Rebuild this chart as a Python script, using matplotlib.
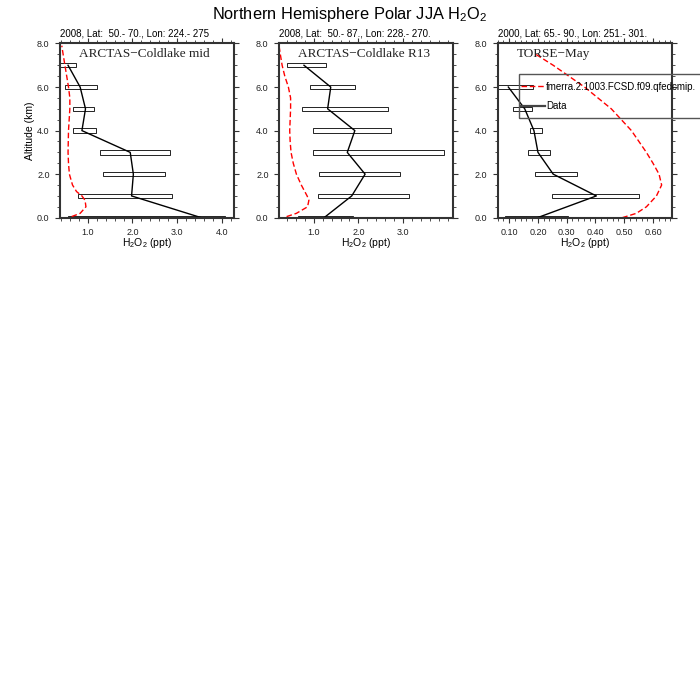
import numpy as np
import matplotlib
matplotlib.use('Agg')
import matplotlib.pyplot as plt
from matplotlib.ticker import MultipleLocator, FormatStrFormatter, FixedLocator
from matplotlib.lines import Line2D
from matplotlib.patches import Rectangle

plt.rcParams['font.family'] = ['Liberation Sans', 'DejaVu Sans']
plt.rcParams['mathtext.default'] = 'regular'

# observed profiles: altitude bins (km), median, and 25-75% range (ppt)
mid_alt = [0, 1, 2, 3, 4, 5, 6, 7]
mid_med = [3.54, 1.98, 2.02, 1.95, 0.87, 0.95, 0.83, 0.56]
mid_lo = [0.55, 0.79, 1.35, 1.28, 0.66, 0.68, 0.49, 0.30]
mid_hi = [4.06, 2.88, 2.73, 2.84, 1.19, 1.13, 1.20, 0.74]

r13_alt = [0, 1, 2, 3, 4, 5, 6, 7]
r13_med = [1.23, 1.85, 2.15, 1.75, 1.92, 1.31, 1.38, 0.78]
r13_lo = [0.65, 1.10, 1.12, 0.99, 0.99, 0.74, 0.91, 0.40]
r13_hi = [1.88, 3.14, 2.93, 3.91, 2.74, 2.67, 1.93, 1.28]

torse_alt = [0, 1, 2, 3, 4, 5, 6]
torse_med = [0.198, 0.403, 0.253, 0.200, 0.186, 0.154, 0.097]
torse_lo = [0.085, 0.249, 0.190, 0.166, 0.172, 0.114, 0.050]
torse_hi = [0.305, 0.551, 0.336, 0.241, 0.215, 0.181, 0.181]

# model profiles
mod_mid_alt = [0.05, 0.2, 0.5, 0.8, 1.0, 1.2, 1.5, 2.0, 2.5, 3.0, 4.0, 5.0, 5.5, 6.0, 6.5, 7.0, 7.5, 7.9]
mod_mid = [0.64, 0.83, 0.96, 0.94, 0.87, 0.75, 0.66, 0.59, 0.57, 0.56, 0.57, 0.60, 0.60, 0.57, 0.53, 0.49, 0.45, 0.42]
mod_r13_alt = [0.05, 0.2, 0.5, 0.8, 1.0, 1.5, 2.0, 2.5, 3.0, 3.5, 4.0, 5.0, 5.5, 6.0, 6.5, 7.0, 7.5, 7.9]
mod_r13 = [0.39, 0.61, 0.86, 0.89, 0.85, 0.72, 0.61, 0.54, 0.49, 0.47, 0.46, 0.48, 0.48, 0.43, 0.35, 0.29, 0.25, 0.22]
mod_torse_alt = [0.0, 0.2, 0.5, 1.0, 1.5, 2.0, 2.5, 3.0, 4.0, 5.0, 6.0, 7.0, 7.5]
mod_torse = [0.493, 0.542, 0.577, 0.612, 0.630, 0.621, 0.600, 0.577, 0.525, 0.455, 0.362, 0.253, 0.193]

subtitles = ['2008, Lat:  50.- 70., Lon: 224.- 275',
             '2008, Lat:  50.- 87., Lon: 228.- 270.',
             '2000, Lat: 65.- 90., Lon: 251.- 301.']
campaigns = ['ARCTAS\u2212Coldlake mid', 'ARCTAS\u2212Coldlake R13', 'TORSE\u2212May']

panels = [
    (mid_alt, mid_med, mid_lo, mid_hi, mod_mid_alt, mod_mid),
    (r13_alt, r13_med, r13_lo, r13_hi, mod_r13_alt, mod_r13),
    (torse_alt, torse_med, torse_lo, torse_hi, mod_torse_alt, mod_torse),
]
xlims = [(0.38, 4.27), (0.22, 4.12), (0.06, 0.665)]
xmajors = [[1, 2, 3, 4], [1, 2, 3], [0.1, 0.2, 0.3, 0.4, 0.5, 0.6]]
xminors = [0.2, 0.2, 0.02]
xfmts = ['%.1f', '%.1f', '%.2f']
lefts = [60, 279, 497.7]

fig = plt.figure(figsize=(7, 7), dpi=100)
W = H = 700.0
axc = '#333333'

for i, (alt, med, lo, hi, malt, mod) in enumerate(panels):
    ax = fig.add_axes([lefts[i] / W, 1 - 217.7 / H, 174 / W, 174.2 / H])
    lo = np.array(lo)
    hi = np.array(hi)
    ax.barh(alt, hi - lo, left=lo, height=0.2, fill=False,
            edgecolor='black', linewidth=0.6)
    ax.plot(med, alt, color='black', linewidth=1.0)
    ax.plot(mod, malt, color='red', linewidth=1.0, linestyle=(0, (4, 2)))
    ax.set_xlim(*xlims[i])
    ax.set_ylim(0, 8)
    ax.xaxis.set_major_locator(FixedLocator(xmajors[i]))
    ax.xaxis.set_minor_locator(MultipleLocator(xminors[i]))
    ax.xaxis.set_major_formatter(FormatStrFormatter(xfmts[i]))
    ax.yaxis.set_major_locator(MultipleLocator(2))
    ax.yaxis.set_minor_locator(MultipleLocator(0.5))
    ax.yaxis.set_major_formatter(FormatStrFormatter('%.1f'))
    ax.tick_params(which='both', direction='out', top=True, right=True,
                   color=axc, labelsize=6.5, labelcolor='#222222')
    ax.tick_params(which='major', length=3.5, width=0.8, pad=4)
    ax.tick_params(which='minor', length=2, width=0.6)
    for s in ax.spines.values():
        s.set_linewidth(1.5)
        s.set_color(axc)
    ax.text(0, 1.056, subtitles[i], transform=ax.transAxes, ha='left',
            va='center', fontsize=7)
    ax.text(0.11, 0.938, campaigns[i], transform=ax.transAxes, ha='left',
            va='center', fontsize=9.5, family='Liberation Serif', color='#222222')
    ax.text(0.5, -0.145, 'H$_2$O$_2$ (ppt)', transform=ax.transAxes,
            ha='center', va='center', fontsize=7.5)
    if i == 0:
        ax.text(-0.173, 0.5, 'Altitude (km)', transform=ax.transAxes,
                ha='center', va='center', rotation=90, fontsize=7.5)

fig.text(0.5, 1 - 14 / H, 'Northern Hemisphere Polar JJA H$_2$O$_2$',
         ha='center', va='center', fontsize=11.8)

# legend box (runs off the right edge, as in the original)
fig.patches.append(Rectangle((519 / W, 1 - 117.7 / H), 0.3, 43.7 / H,
                             transform=fig.transFigure, fill=False,
                             edgecolor='#555555', linewidth=1.0))
handles = [Line2D([], [], color='red', linewidth=1.0, linestyle=(0, (4, 2))),
           Line2D([], [], color='#444444', linewidth=1.6)]
fig.legend(handles, ['fmerra.2.1003.FCSD.f09.qfedcmip.', 'Data'],
           loc='upper left', bbox_to_anchor=(521 / W, 1 - 81.8 / H),
           frameon=False, borderpad=0, borderaxespad=0, handlelength=2.45,
           handletextpad=0.15, labelspacing=0.99, fontsize=7)

fig.savefig('out.png', dpi=100)
